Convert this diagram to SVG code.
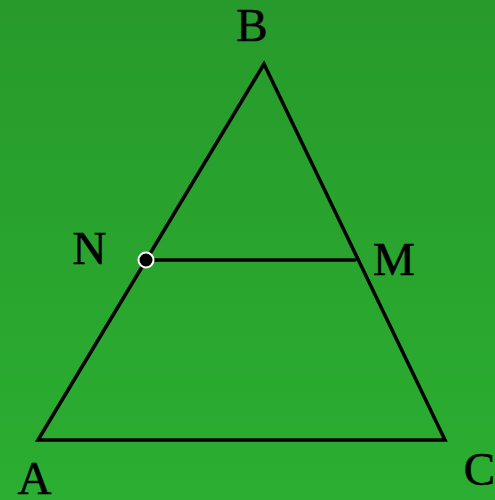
<svg xmlns="http://www.w3.org/2000/svg" width="495" height="500" viewBox="0 0 495 500">
<defs>
<linearGradient id="bg" x1="0" y1="0" x2="0" y2="1">
<stop offset="0" stop-color="#279a2b"/>
<stop offset="1" stop-color="#2bae31"/>
</linearGradient>
<style>
.lbl{font-family:"Liberation Serif","Times New Roman",serif;font-size:47px;fill:#000;stroke:#000;stroke-width:0.6;text-anchor:middle}
.edge{stroke:#000;stroke-width:3.5;fill:none;stroke-linecap:round;stroke-linejoin:miter}
</style>
</defs>
<rect width="495" height="500" fill="url(#bg)"/>
<g id="connectors">
<path class="edge" d="M38,440 L264,64 L445,440 Z"/>
<line class="edge" x1="146" y1="260" x2="355" y2="260"/>
</g>
<g id="node-N"><circle cx="146" cy="260" r="7.5" fill="#000" stroke="#fff" stroke-width="2"/><text class="lbl" x="89.5" y="264">N</text></g>
<g id="node-B"><text class="lbl" x="252" y="41">B</text></g>
<g id="node-M"><text class="lbl" x="394" y="275">M</text></g>
<g id="node-A"><text class="lbl" x="34.5" y="494">A</text></g>
<g id="node-C"><text class="lbl" x="479.5" y="485">C</text></g>
</svg>
